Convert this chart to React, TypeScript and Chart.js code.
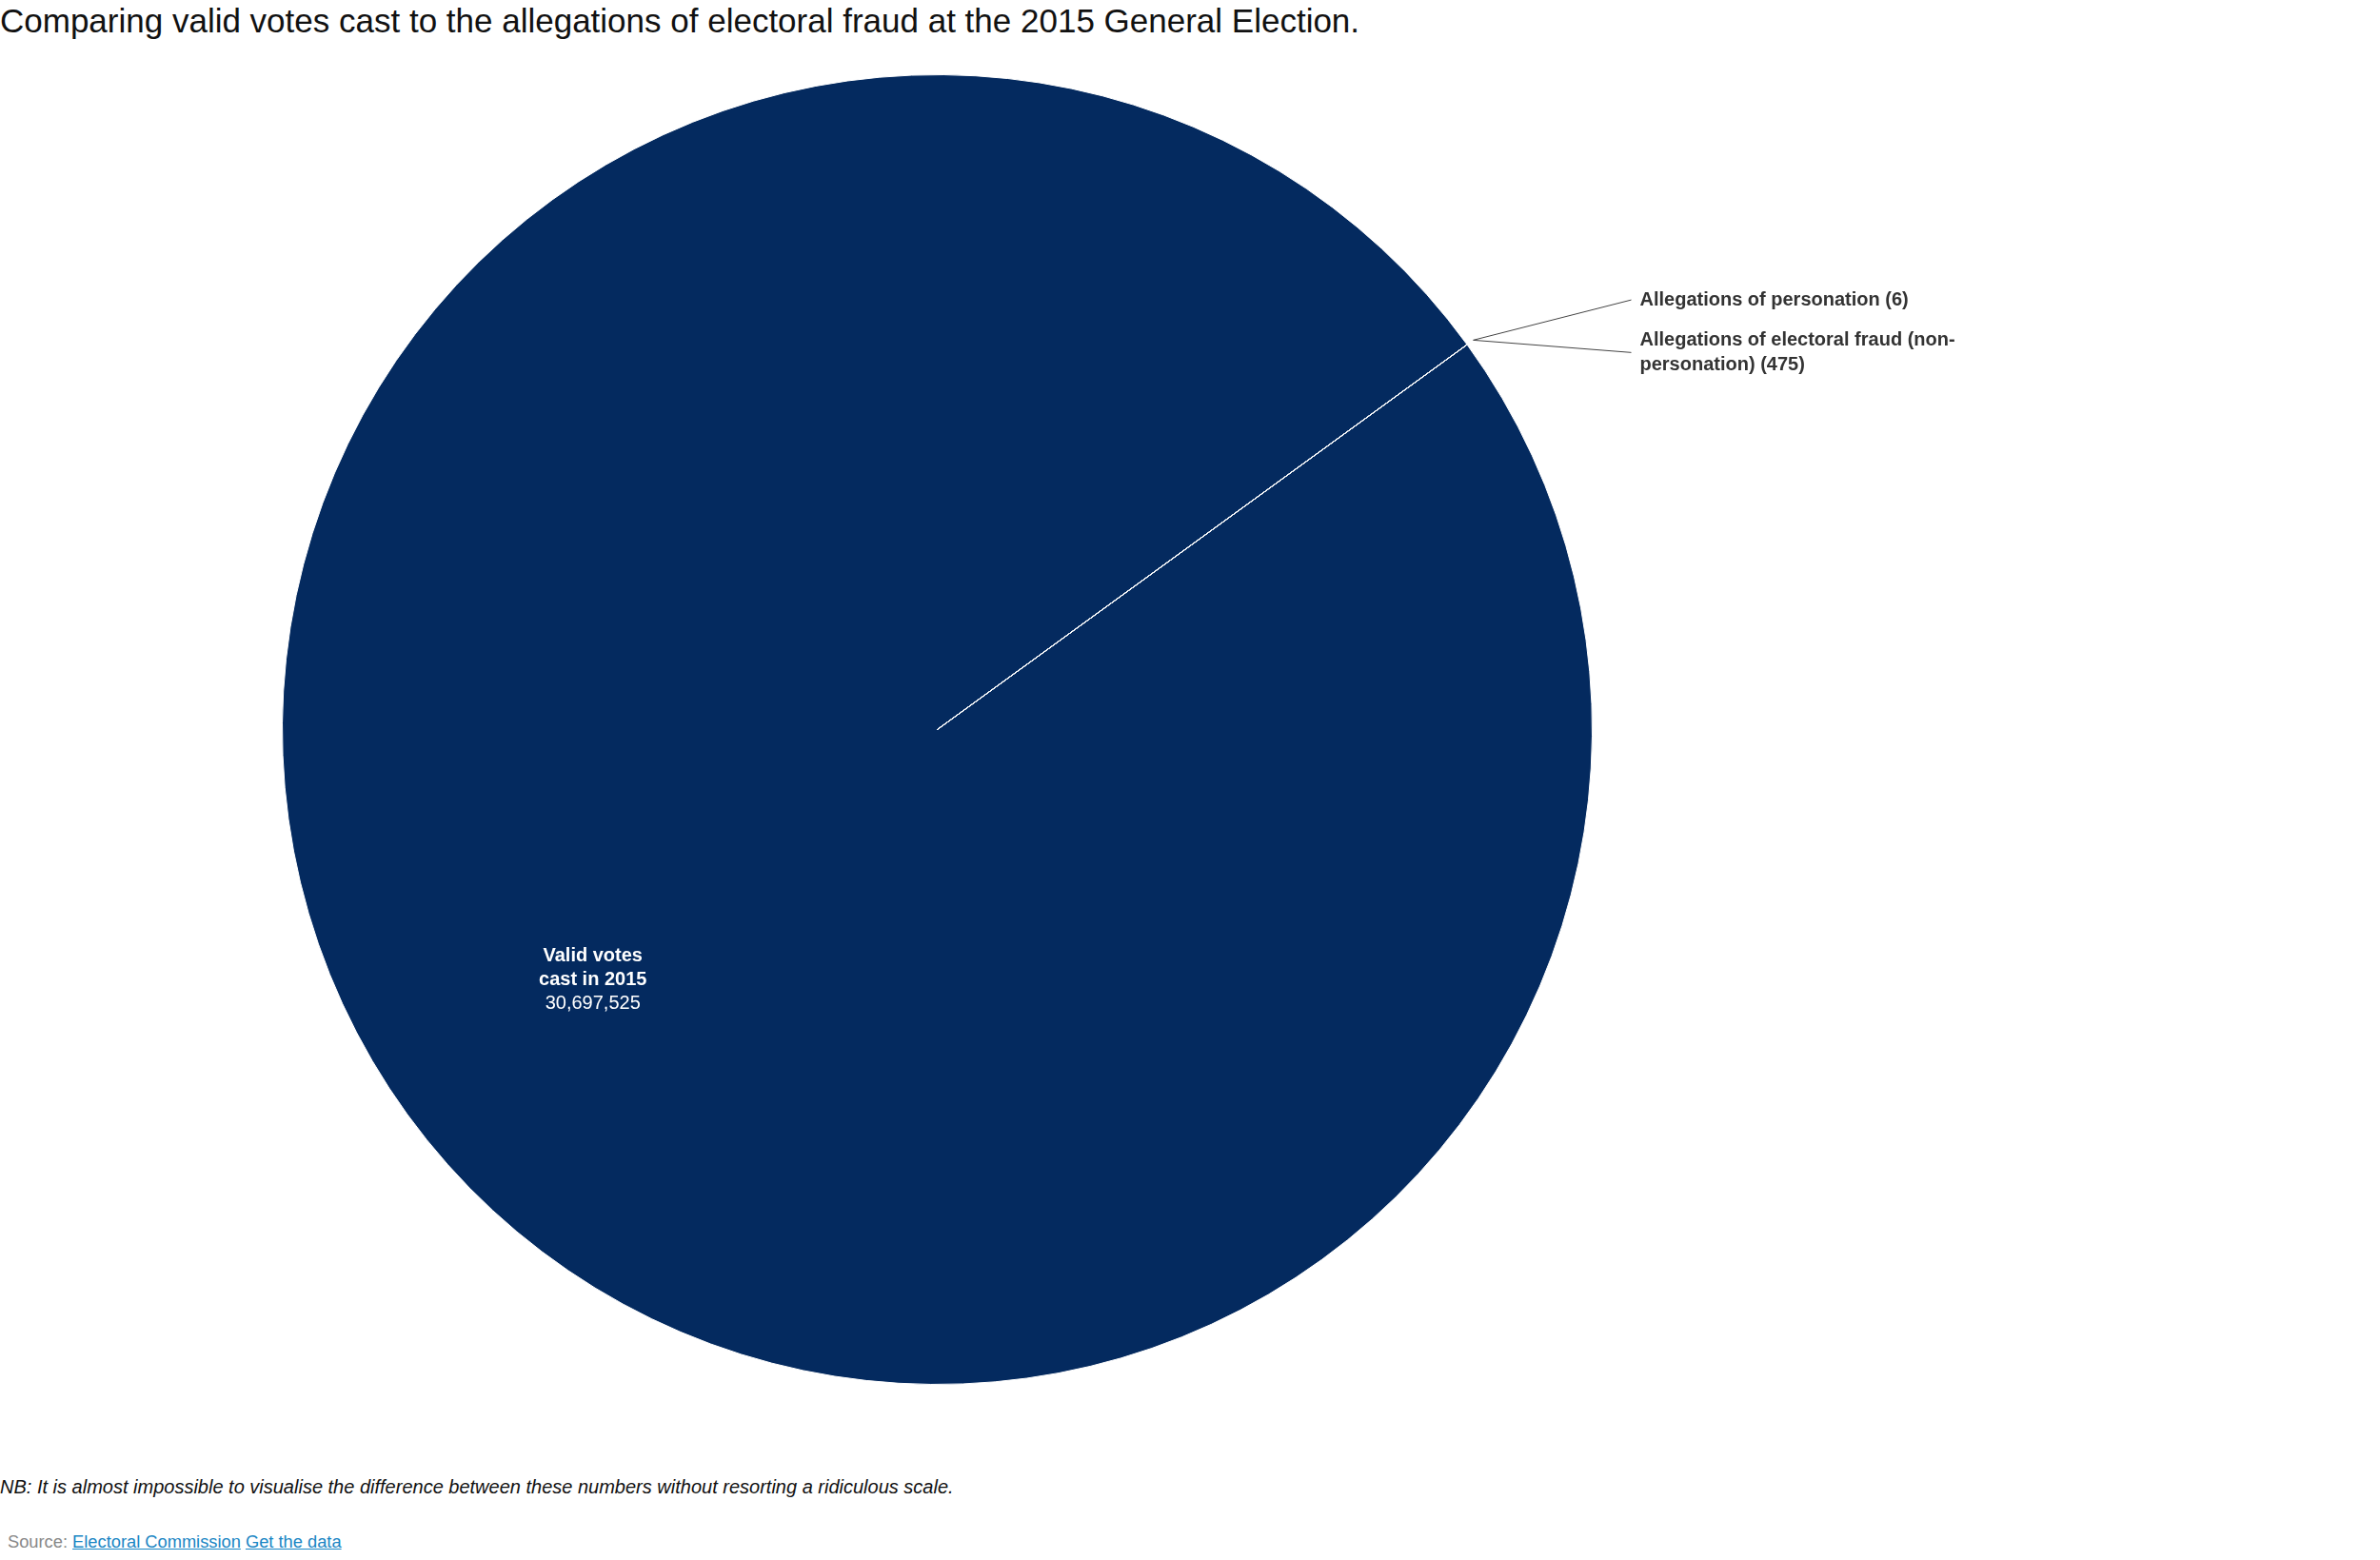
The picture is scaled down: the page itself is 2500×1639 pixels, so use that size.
import React, { useEffect, useRef } from 'react';
import { Chart, registerables } from 'chart.js';

Chart.register(...registerables);

// data
const categories = [
  'Valid votes cast in 2015',
  'Allegations of personation',
  'Allegations of electoral fraud (non-personation)',
];
const values = [30697525, 6, 475];
const sliceColors = ['#042a5f', '#042a5f', '#042a5f'];

const FONT = '"Liberation Sans", Arial, Helvetica, sans-serif';

// split text into lines no wider than maxWidth, breaking at spaces and after hyphens
function wrapText(ctx: CanvasRenderingContext2D, text: string, maxWidth: number): string[] {
  const tokens: { t: string; space: boolean }[] = [];
  text.split(' ').forEach((word, wi) => {
    const parts = word.split(/(?<=-)/);
    parts.forEach((p, pi) => tokens.push({ t: p, space: wi > 0 && pi === 0 }));
  });
  const lines: string[] = [];
  let cur = '';
  tokens.forEach((tok) => {
    const next = cur === '' ? tok.t : cur + (tok.space ? ' ' : '') + tok.t;
    if (cur !== '' && ctx.measureText(next).width > maxWidth) {
      lines.push(cur);
      cur = tok.t;
    } else {
      cur = next;
    }
  });
  if (cur) lines.push(cur);
  return lines;
}

const calloutPlugin = {
  id: 'callouts',
  afterDatasetsDraw(chart: any) {
    const ctx: CanvasRenderingContext2D = chart.ctx;
    const meta = chart.getDatasetMeta(0);
    const lineH = 25.5;
    let outsideIndex = 0;
    let blockTop = 0;

    ctx.save();
    meta.data.forEach((arc: any, i: number) => {
      const { x, y, startAngle, endAngle, outerRadius } = arc.getProps(
        ['x', 'y', 'startAngle', 'endAngle', 'outerRadius'],
        true
      );
      const mid = (startAngle + endAngle) / 2;

      if (i === 0) {
        // label inside the big slice
        const lx = x + Math.cos(mid) * outerRadius * 0.65;
        const ly = y + Math.sin(mid) * outerRadius * 0.65;
        ctx.fillStyle = '#ffffff';
        ctx.textAlign = 'center';
        ctx.textBaseline = 'middle';
        ctx.font = `bold 20px ${FONT}`;
        const lines = wrapText(ctx, categories[i], 125);
        const all = [...lines, values[i].toLocaleString('en-US')];
        const top = ly - ((all.length - 1) * 25) / 2;
        all.forEach((l, li) => {
          ctx.font = li < lines.length ? `bold 20px ${FONT}` : `20px ${FONT}`;
          ctx.fillText(l, lx, top + li * 25);
        });
        return;
      }

      // outside callouts with leader lines
      const ex = x + Math.cos(mid) * (outerRadius + 8);
      const ey = y + Math.sin(mid) * (outerRadius + 8);
      ctx.font = `bold 20px ${FONT}`;
      const lines = wrapText(ctx, `${categories[i]} (${values[i]})`, 340);
      if (outsideIndex === 0) blockTop = ey - 55;
      const tx = x + 738;
      const blockMid = blockTop + (lines.length * lineH) / 2;

      ctx.strokeStyle = '#444444';
      ctx.lineWidth = 1;
      ctx.beginPath();
      ctx.moveTo(ex, ey);
      ctx.lineTo(tx - 9, blockMid);
      ctx.stroke();

      ctx.fillStyle = '#333333';
      ctx.textAlign = 'left';
      ctx.textBaseline = 'middle';
      lines.forEach((l, li) => {
        ctx.fillText(l, tx, blockTop + lineH / 2 + li * lineH);
      });
      blockTop += lines.length * lineH + 17;
      outsideIndex++;
    });
    ctx.restore();
  },
};

const PieChart: React.FC = () => {
  const canvasRef = useRef<HTMLCanvasElement>(null);
  const chartRef = useRef<Chart | null>(null);

  useEffect(() => {
    if (!canvasRef.current) return;
    if (chartRef.current) chartRef.current.destroy();

    chartRef.current = new Chart(canvasRef.current, {
      type: 'pie',
      data: {
        labels: categories,
        datasets: [
          {
            data: values,
            backgroundColor: sliceColors,
            borderColor: '#ffffff',
            borderWidth: 1,
          },
        ],
      },
      options: {
        animation: false,
        responsive: true,
        maintainAspectRatio: false,
        rotation: 54,
        events: [],
        layout: {
          padding: { left: 296, right: 827, top: 18, bottom: 65 },
        },
        plugins: {
          legend: { display: false },
          tooltip: { enabled: false },
        },
      },
      plugins: [calloutPlugin],
    });

    return () => {
      if (chartRef.current) {
        chartRef.current.destroy();
        chartRef.current = null;
      }
    };
  }, []);

  return (
    <div style={{ position: 'absolute', left: 0, top: 60, width: 2500, height: 1460 }}>
      <canvas ref={canvasRef}></canvas>
    </div>
  );
};

const linkStyle: React.CSSProperties = { color: '#1a86c4', textDecoration: 'underline' };

export default function App() {
  return (
    <div
      style={{
        position: 'absolute',
        left: 0,
        top: 0,
        width: 2500,
        height: 1639,
        background: '#ffffff',
        fontFamily: FONT,
      }}
    >
      <div
        style={{
          position: 'absolute',
          left: 0,
          top: 2,
          fontSize: 35,
          color: '#111111',
          whiteSpace: 'nowrap',
        }}
      >
        Comparing valid votes cast to the allegations of electoral fraud at the 2015 General Election.
      </div>
      <PieChart />
      <div
        style={{
          position: 'absolute',
          left: 0,
          top: 1551,
          fontSize: 20,
          fontStyle: 'italic',
          color: '#111111',
          whiteSpace: 'nowrap',
        }}
      >
        NB: It is almost impossible to visualise the difference between these numbers without resorting a ridiculous scale.
      </div>
      <div
        style={{
          position: 'absolute',
          left: 8,
          top: 1609,
          fontSize: 18.3,
          color: '#888888',
          whiteSpace: 'nowrap',
        }}
      >
        Source: <span style={linkStyle}>Electoral Commission</span>{' '}
        <span style={linkStyle}>Get the data</span>
      </div>
    </div>
  );
}
